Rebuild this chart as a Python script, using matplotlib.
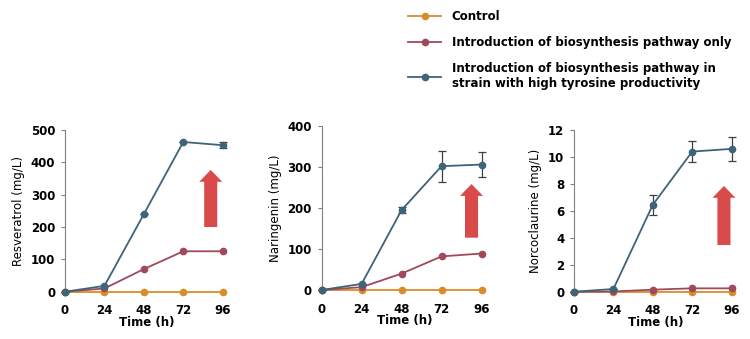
import matplotlib
matplotlib.use("Agg")
import matplotlib.pyplot as plt
from matplotlib.patches import FancyArrowPatch
from matplotlib.lines import Line2D

plt.rcParams['font.family'] = ['DejaVu Sans']

time_h = [0, 24, 48, 72, 96]
series_labels = ["Control",
                 "Introduction of biosynthesis pathway only",
                 "Introduction of biosynthesis pathway in\nstrain with high tyrosine productivity"]
colors = ["#d98c2b", "#a0495a", "#3e6478"]

# Resveratrol
res_control = [0, 0, 0, 0, 0]
res_pathway = [0, 10, 70, 125, 125]
res_high = [0, 18, 240, 463, 453]
res_high_err = [0, 0, 0, 0, 10]

# Naringenin
nar_control = [0, 0, 0, 0, 0]
nar_pathway = [0, 7, 40, 82, 89]
nar_high = [0, 15, 195, 302, 306]
nar_high_err = [0, 0, 8, 38, 30]

# Norcoclaurine
nor_control = [0, 0, 0, 0, 0]
nor_pathway = [0, 0.02, 0.15, 0.25, 0.25]
nor_high = [0, 0.2, 6.45, 10.4, 10.6]
nor_high_err = [0, 0, 0.75, 0.75, 0.9]

panels = [
    dict(label="Resveratrol (mg/L)", data=[res_control, res_pathway, res_high],
         err=res_high_err, yticks=[0, 100, 200, 300, 400, 500], ymax=500,
         rect=[0.0867, 0.1395, 0.219, 0.477], arrow=(0.887, 0.40, 0.753)),
    dict(label="Naringenin (mg/L)", data=[nar_control, nar_pathway, nar_high],
         err=nar_high_err, yticks=[0, 100, 200, 300, 400], ymax=400,
         rect=[0.4289, 0.1445, 0.222, 0.4838], arrow=(0.90, 0.319, 0.646)),
    dict(label="Norcoclaurine (mg/L)", data=[nor_control, nor_pathway, nor_high],
         err=nor_high_err, yticks=[0, 2, 4, 6, 8, 10, 12], ymax=12,
         rect=[0.7653, 0.1395, 0.219, 0.477], arrow=(0.913, 0.289, 0.654)),
]

fig = plt.figure(figsize=(7.5, 3.39), dpi=100)

for p in panels:
    ax = fig.add_axes(p["rect"])
    for i, (vals, c) in enumerate(zip(p["data"], colors)):
        z = 3 + i
        if i == 2:
            ax.errorbar(time_h, vals, yerr=p["err"], fmt='none', ecolor="#404040",
                        elinewidth=0.9, capsize=3, capthick=0.9, zorder=z, clip_on=False)
        ax.plot(time_h, vals, '-o', color=c, lw=1.3, ms=4.5, mec=c, mfc=c,
                zorder=z + 0.5, clip_on=False)
    ax.set_xlim(0, 100)
    ax.set_ylim(0, p["ymax"])
    ax.set_xticks(time_h)
    ax.set_yticks(p["yticks"])
    for s in ["top", "right", "bottom"]:
        ax.spines[s].set_visible(False)
    ax.spines["left"].set_color("#808080")
    ax.spines["left"].set_linewidth(0.8)
    ax.tick_params(axis='x', length=0, pad=9, labelsize=8.5)
    ax.tick_params(axis='y', length=3, color="#808080", width=0.8, pad=4, labelsize=8.5)
    for t in ax.get_xticklabels() + ax.get_yticklabels():
        t.set_fontweight('bold')
    ax.set_xlabel("Time (h)", fontsize=8.5, fontweight='bold', labelpad=-1)
    ax.set_ylabel(p["label"], fontsize=8.5, labelpad=4)
    ax_x, y0, y1 = p["arrow"]
    arr = FancyArrowPatch((ax_x, y0), (ax_x, y1), transform=ax.transAxes,
                          arrowstyle="simple,head_length=8.5,head_width=16.5,tail_width=9.4",
                          mutation_scale=1, shrinkA=0, shrinkB=0,
                          color="#d94a4a", lw=0, zorder=2)
    ax.add_patch(arr)

handles = [Line2D([], [], color=c, marker='o', lw=1.3, ms=4.5) for c in colors]
fig.legend(handles, series_labels, loc='upper left', bbox_to_anchor=(0.533, 0.995),
           frameon=False, prop=dict(size=8.5, weight='bold'), handlelength=2.8,
           handletextpad=0.9, labelspacing=1.1, borderaxespad=0.3)

fig.savefig("out.png", dpi=100)
